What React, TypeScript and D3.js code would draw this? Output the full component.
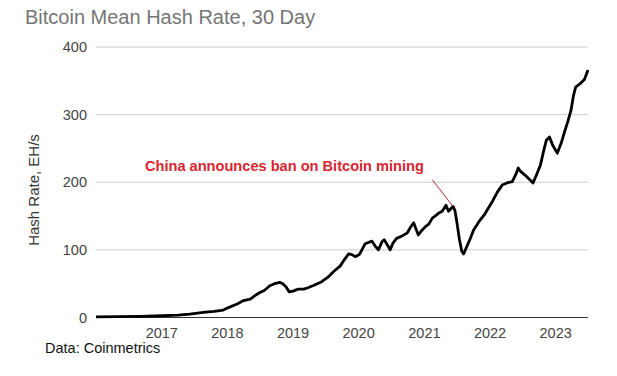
import React from "react";
import * as d3 from "d3";

const dates: string[] = [
  "2016-01-01","2016-05-01","2016-09-01","2017-01-01","2017-04-01","2017-06-05","2017-09-01","2017-10-20","2017-12-09",
  "2018-01-10","2018-02-24","2018-04-01","2018-05-08","2018-06-01","2018-07-01","2018-07-25","2018-08-25","2018-09-20",
  "2018-10-19","2018-11-05","2018-11-24","2018-12-10","2019-01-01","2019-01-30","2019-03-01","2019-03-25","2019-05-01",
  "2019-06-10","2019-07-16","2019-08-15","2019-09-20","2019-10-15","2019-11-06","2019-11-25","2019-12-13","2020-01-05",
  "2020-02-06","2020-02-25","2020-03-14","2020-04-01","2020-04-20","2020-05-10","2020-05-22","2020-06-10","2020-06-24",
  "2020-07-10","2020-07-30","2020-08-25","2020-09-27","2020-10-15","2020-11-02","2020-11-28","2020-12-15","2021-01-05",
  "2021-01-25","2021-02-14","2021-03-01","2021-03-20","2021-04-10","2021-05-01","2021-05-15","2021-06-01","2021-06-10",
  "2021-06-20","2021-07-01","2021-07-15","2021-07-28","2021-08-07","2021-08-25","2021-09-15","2021-10-01","2021-11-01",
  "2021-12-01","2021-12-16","2022-01-15","2022-02-10","2022-03-10","2022-04-05","2022-05-05","2022-05-25","2022-06-07",
  "2022-06-20","2022-07-13","2022-08-05","2022-08-28","2022-09-15","2022-10-08","2022-10-25","2022-11-10","2022-11-28",
  "2022-12-15","2023-01-10","2023-02-01","2023-02-20","2023-03-10","2023-03-28","2023-04-10","2023-04-23","2023-05-05",
  "2023-05-22","2023-06-10","2023-06-30",
];
const hashRate: number[] = [
  0.8,1.2,1.7,2.6,3.5,5,8,9,11,
  15,20,25,27,32,37,40,47,50,
  52,50,45,38,39,42,42,44,48,
  53,60,68,76,86,94,93,90,93,
  109,111,113,106,100,112,115,107,100,
  110,117,120,125,133,140,122,128,134,
  138,147,150,154,157,166,157,162,164,
  158,140,115,98,94,105,118,129,142,
  152,159,172,185,196,199,201,212,221,
  216,211,205,199,210,225,245,262,267,
  255,243,258,275,290,307,328,341,343,
  347,352,366,
];
const yTicks: number[] = [0, 100, 200, 300, 400];
const xTickYears: number[] = [2017, 2018, 2019, 2020, 2021, 2022, 2023];
const annotationText = "China announces ban on Bitcoin mining";
const annotationDate = "2021-06-10";
const annotationValue = 164;

const FONT = "Arial, 'Liberation Sans', sans-serif";

export default function App() {
  const W = 617, H = 376;
  const left = 96, right = 588, top = 47, bottom = 317.5;
  const parse = d3.timeParse("%Y-%m-%d");
  const data = dates.map((d, i) => ({ date: parse(d) as Date, v: hashRate[i] }));
  const x = d3.scaleTime()
    .domain([parse("2016-01-01") as Date, parse("2023-06-30") as Date])
    .range([left, right]);
  const y = d3.scaleLinear().domain([0, 400]).range([bottom, top]);
  const line = d3.line<{ date: Date; v: number }>()
    .x(d => x(d.date))
    .y(d => y(d.v))
    .curve(d3.curveLinear);

  const ax = x(parse(annotationDate) as Date);
  const ay = y(annotationValue);

  return (
    <svg width={W} height={H} style={{ position: "absolute", left: 0, top: 0, background: "#fff" }}
      fontFamily={FONT}>
      <rect width={W} height={H} fill="#fff" />
      <text x={25} y={24.3} fontSize={20} fill="#757575">Bitcoin Mean Hash Rate, 30 Day</text>
      {yTicks.map(t => (
        <g key={t}>
          {t !== 0 && <line x1={left} x2={right} y1={y(t)} y2={y(t)} stroke="#cccccc" strokeWidth={1} />}
          <text x={87} y={y(t) + 5} fontSize={14.5} fill="#444" textAnchor="end">{t}</text>
        </g>
      ))}
      <text transform={`translate(39.3,190) rotate(-90)`} fontSize={15} fill="#333" textAnchor="middle">Hash Rate, EH/s</text>
      {xTickYears.map(yr => (
        <text key={yr} x={x(new Date(yr, 0, 1))} y={338} fontSize={14.5} fill="#444" textAnchor="middle">{yr}</text>
      ))}
      <line x1={left} x2={right} y1={bottom} y2={bottom} stroke="#333" strokeWidth={1} />
      <path d={line(data) || ""} fill="none" stroke="#000" strokeWidth={2.8} strokeLinejoin="round" />
      <line x1={ax - 21} y1={ay - 27} x2={ax} y2={ay} stroke="#b01020" strokeWidth={0.9} />
      <text x={145} y={171} fontSize={14.6} fontWeight="bold" fill="#d9252f">{annotationText}</text>
      <text x={45} y={353.3} fontSize={14.5} fill="#111">Data: Coinmetrics</text>
    </svg>
  );
}
